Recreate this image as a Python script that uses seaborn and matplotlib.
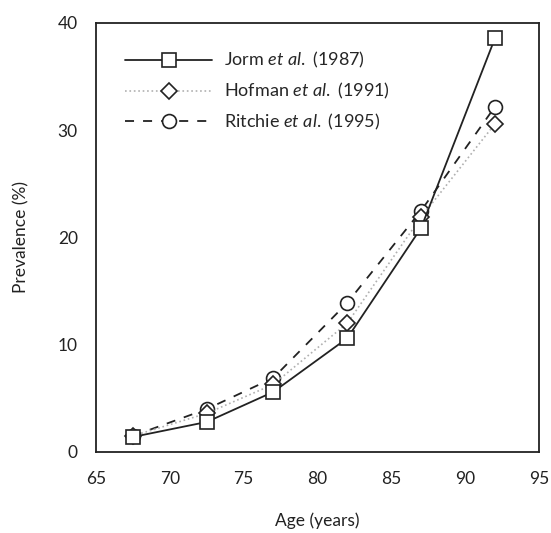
import matplotlib
matplotlib.use("Agg")
import matplotlib.pyplot as plt
import seaborn as sns
import pandas as pd

# Age-group midpoints (years)
ages = [67.5, 72.5, 77, 82, 87, 92]

# Prevalence of dementia (%) by study
jorm = [1.4, 2.8, 5.6, 10.6, 20.9, 38.6]
hofman = [1.5, 3.6, 6.3, 12.0, 21.9, 30.6]
ritchie = [1.5, 4.0, 6.9, 13.9, 22.5, 32.2]

labels = ["Jorm $\\mathit{et\\ al.}$ (1987)",
          "Hofman $\\mathit{et\\ al.}$ (1991)",
          "Ritchie $\\mathit{et\\ al.}$ (1995)"]

sns.set_theme(style="white")
plt.rcParams["font.family"] = ["Lato", "DejaVu Sans"]
plt.rcParams["mathtext.fontset"] = "custom"
plt.rcParams["mathtext.it"] = "Lato:italic"
plt.rcParams["mathtext.rm"] = "Lato"

FS = 12.5
INK = "#222222"

df = pd.concat([
    pd.DataFrame({"age": ages, "prev": vals, "study": lab})
    for vals, lab in zip([jorm, hofman, ritchie], labels)
])

fig = plt.figure(figsize=(5.51, 5.33), dpi=100)
ax = fig.add_axes([0.174, 0.152, 0.805, 0.805])

styles = {
    labels[0]: dict(color=INK, ls="-", marker="s", ms=10, lw=1.3),
    labels[1]: dict(color="#b0b0b0", ls=":", marker="D", ms=8, lw=1.2),
    labels[2]: dict(color=INK, ls=(0, (5, 5)), marker="o", ms=10, lw=1.3),
}

# draw back-to-front so the squares sit on top
for lab in [labels[2], labels[1], labels[0]]:
    st = styles[lab]
    sns.lineplot(data=df[df["study"] == lab], x="age", y="prev", ax=ax,
                 color=st["color"], linestyle=st["ls"], linewidth=st["lw"],
                 marker=st["marker"], markersize=st["ms"],
                 markerfacecolor="white", markeredgecolor=INK,
                 markeredgewidth=1.2, label=lab, legend=False)

ax.set_xlim(65, 95)
ax.set_ylim(0, 40)
ax.set_xticks(range(65, 96, 5))
ax.set_yticks(range(0, 41, 10))
ax.tick_params(axis="x", direction="in", length=6, width=1.2, labelsize=FS,
               pad=14, colors=INK)
ax.tick_params(axis="y", direction="out", length=8, width=1.2, labelsize=FS,
               pad=5, colors=INK)
for sp in ax.spines.values():
    sp.set_color(INK)
    sp.set_linewidth(1.3)

ax.set_xlabel("Age (years)", fontsize=FS, labelpad=18, color=INK)
ax.set_ylabel("Prevalence (%)", fontsize=FS, labelpad=20, color=INK)

handles, _ = ax.get_legend_handles_labels()
h_by = {h.get_label(): h for h in handles}
ax.legend([h_by[l] for l in labels], labels, loc="upper left",
          bbox_to_anchor=(0.05, 0.953), frameon=False, fontsize=13,
          handlelength=4.8, handletextpad=0.65, labelspacing=0.6,
          borderaxespad=0.0)

fig.savefig("out.png", dpi=100)
